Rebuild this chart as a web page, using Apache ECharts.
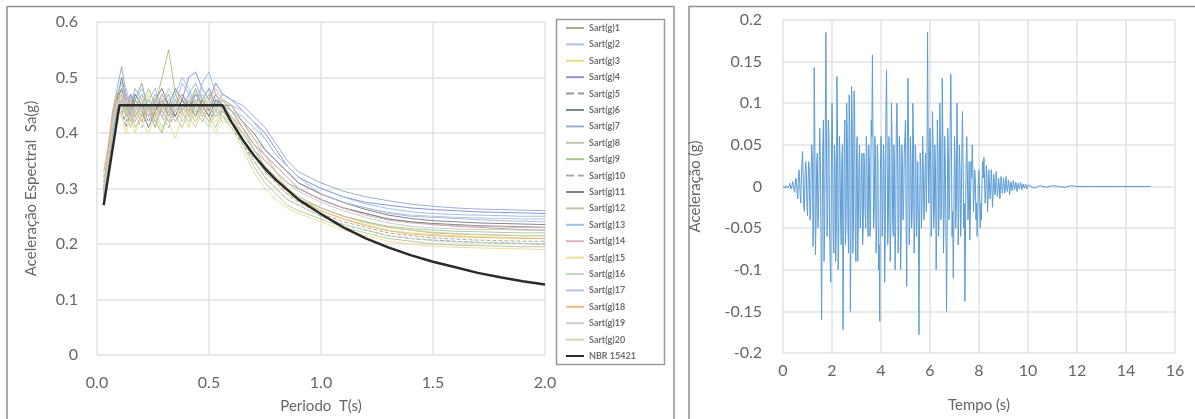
<!DOCTYPE html>
<html>
<head>
<meta charset="utf-8">
<script src="https://cdn.jsdelivr.net/npm/echarts@6/dist/echarts.min.js"></script>
<style>
  html, body { margin: 0; padding: 0; background: #fff; }
  #chart { width: 1195px; height: 419px; }
</style>
</head>
<body>
<div id="chart"></div>
<script>
// Response spectra: periods (s) shared by the 20 record spectra
const periods = [0.03, 0.05, 0.07, 0.09, 0.11, 0.13, 0.15, 0.17, 0.2, 0.23, 0.26, 0.29, 0.32, 0.35, 0.38, 0.41, 0.44, 0.47, 0.5, 0.53, 0.56, 0.6, 0.65, 0.7, 0.75, 0.8, 0.85, 0.9, 1.0, 1.1, 1.2, 1.3, 1.4, 1.5, 1.6, 1.7, 1.8, 1.9, 2.0];

const sart1  = [0.28,0.35,0.42,0.46,0.47,0.44,0.42,0.46,0.49,0.44,0.41,0.45,0.47,0.43,0.46,0.44,0.48,0.45,0.43,0.46,0.44,0.43,0.40,0.37,0.35,0.33,0.31,0.30,0.28,0.265,0.255,0.245,0.24,0.235,0.232,0.23,0.228,0.226,0.225];
const sart2  = [0.30,0.36,0.43,0.47,0.45,0.43,0.47,0.44,0.42,0.46,0.48,0.44,0.42,0.45,0.49,0.47,0.44,0.46,0.48,0.45,0.46,0.44,0.42,0.39,0.37,0.35,0.33,0.31,0.29,0.275,0.265,0.255,0.25,0.248,0.246,0.244,0.242,0.241,0.24];
const sart3  = [0.29,0.34,0.41,0.45,0.48,0.46,0.43,0.40,0.44,0.47,0.43,0.40,0.45,0.48,0.44,0.41,0.45,0.47,0.44,0.42,0.45,0.43,0.39,0.36,0.33,0.31,0.29,0.28,0.26,0.245,0.235,0.225,0.22,0.217,0.215,0.213,0.212,0.211,0.21];
const sart4  = [0.27,0.33,0.40,0.44,0.46,0.44,0.47,0.45,0.43,0.46,0.44,0.47,0.45,0.48,0.46,0.50,0.51,0.48,0.46,0.49,0.47,0.46,0.44,0.42,0.40,0.37,0.34,0.32,0.30,0.285,0.275,0.27,0.265,0.262,0.26,0.258,0.257,0.256,0.255];
const sart5  = [0.31,0.37,0.43,0.46,0.44,0.41,0.44,0.47,0.45,0.42,0.45,0.43,0.41,0.44,0.46,0.43,0.45,0.44,0.42,0.44,0.43,0.41,0.38,0.35,0.32,0.30,0.28,0.27,0.25,0.235,0.225,0.215,0.21,0.207,0.205,0.203,0.202,0.201,0.2];
const sart6  = [0.28,0.35,0.42,0.46,0.48,0.45,0.43,0.46,0.44,0.41,0.44,0.46,0.43,0.45,0.47,0.45,0.43,0.46,0.44,0.47,0.45,0.44,0.41,0.38,0.36,0.34,0.32,0.30,0.28,0.265,0.255,0.245,0.24,0.237,0.235,0.233,0.232,0.231,0.23];
const sart7  = [0.29,0.36,0.44,0.48,0.52,0.47,0.45,0.48,0.46,0.44,0.47,0.45,0.43,0.46,0.44,0.47,0.49,0.46,0.48,0.45,0.47,0.46,0.45,0.43,0.41,0.38,0.35,0.33,0.31,0.295,0.285,0.278,0.272,0.268,0.265,0.263,0.262,0.261,0.26];
const sart8  = [0.30,0.36,0.42,0.45,0.43,0.46,0.44,0.41,0.43,0.45,0.42,0.44,0.46,0.43,0.41,0.44,0.42,0.45,0.43,0.41,0.44,0.42,0.38,0.34,0.31,0.29,0.27,0.26,0.245,0.23,0.22,0.21,0.205,0.2,0.198,0.197,0.196,0.195,0.195];
const sart9  = [0.28,0.34,0.41,0.45,0.47,0.44,0.46,0.43,0.45,0.48,0.45,0.50,0.55,0.47,0.44,0.46,0.43,0.45,0.47,0.44,0.46,0.44,0.41,0.37,0.34,0.32,0.30,0.28,0.265,0.25,0.24,0.23,0.225,0.22,0.218,0.217,0.216,0.215,0.215];
const sart10 = [0.32,0.37,0.43,0.46,0.44,0.42,0.45,0.43,0.41,0.44,0.46,0.43,0.45,0.42,0.44,0.46,0.44,0.42,0.45,0.43,0.44,0.42,0.39,0.36,0.33,0.31,0.29,0.275,0.255,0.24,0.23,0.22,0.215,0.211,0.209,0.207,0.206,0.205,0.205];
const sart11 = [0.29,0.35,0.42,0.46,0.50,0.46,0.44,0.47,0.45,0.43,0.46,0.48,0.45,0.43,0.46,0.44,0.47,0.45,0.43,0.46,0.45,0.45,0.42,0.40,0.37,0.35,0.33,0.31,0.29,0.275,0.262,0.252,0.246,0.242,0.24,0.238,0.237,0.236,0.235];
const sart12 = [0.27,0.34,0.41,0.45,0.46,0.43,0.41,0.44,0.47,0.45,0.42,0.40,0.44,0.46,0.43,0.45,0.48,0.44,0.42,0.45,0.43,0.42,0.40,0.37,0.34,0.32,0.30,0.285,0.265,0.25,0.24,0.232,0.228,0.225,0.223,0.222,0.221,0.22,0.22];
const sart13 = [0.30,0.36,0.43,0.47,0.49,0.46,0.44,0.46,0.48,0.45,0.43,0.46,0.44,0.47,0.50,0.48,0.45,0.49,0.51,0.47,0.45,0.44,0.43,0.41,0.39,0.36,0.34,0.32,0.30,0.285,0.272,0.264,0.258,0.255,0.253,0.252,0.251,0.25,0.25];
const sart14 = [0.29,0.35,0.42,0.46,0.45,0.47,0.44,0.42,0.45,0.43,0.46,0.44,0.42,0.45,0.47,0.44,0.46,0.43,0.45,0.47,0.45,0.43,0.41,0.38,0.36,0.34,0.32,0.30,0.28,0.265,0.252,0.243,0.238,0.235,0.233,0.232,0.231,0.23,0.23];
const sart15 = [0.31,0.36,0.42,0.45,0.43,0.40,0.43,0.45,0.42,0.40,0.43,0.45,0.42,0.39,0.43,0.45,0.42,0.44,0.42,0.40,0.43,0.41,0.37,0.33,0.30,0.28,0.265,0.255,0.24,0.225,0.215,0.205,0.2,0.196,0.194,0.193,0.192,0.191,0.19];
const sart16 = [0.28,0.34,0.41,0.45,0.47,0.44,0.42,0.45,0.43,0.46,0.44,0.41,0.43,0.45,0.42,0.44,0.46,0.43,0.41,0.44,0.42,0.42,0.39,0.35,0.32,0.30,0.28,0.27,0.25,0.235,0.225,0.215,0.21,0.206,0.204,0.203,0.202,0.201,0.2];
const sart17 = [0.30,0.36,0.43,0.47,0.46,0.48,0.45,0.43,0.46,0.44,0.47,0.45,0.48,0.46,0.44,0.47,0.45,0.48,0.46,0.44,0.46,0.45,0.44,0.42,0.39,0.36,0.34,0.32,0.29,0.275,0.265,0.257,0.252,0.25,0.248,0.247,0.246,0.245,0.245];
const sart18 = [0.33,0.38,0.44,0.47,0.45,0.43,0.46,0.44,0.42,0.45,0.43,0.46,0.44,0.42,0.45,0.43,0.46,0.44,0.46,0.48,0.46,0.45,0.42,0.39,0.36,0.33,0.30,0.28,0.26,0.245,0.233,0.224,0.218,0.215,0.213,0.212,0.211,0.21,0.21];
const sart19 = [0.28,0.35,0.42,0.46,0.44,0.46,0.43,0.45,0.47,0.44,0.42,0.45,0.43,0.46,0.44,0.42,0.45,0.47,0.45,0.43,0.45,0.44,0.41,0.38,0.35,0.33,0.31,0.295,0.275,0.26,0.248,0.238,0.232,0.229,0.227,0.226,0.226,0.225,0.225];
const sart20 = [0.29,0.35,0.42,0.45,0.47,0.45,0.42,0.44,0.46,0.43,0.45,0.47,0.44,0.42,0.45,0.43,0.41,0.44,0.46,0.44,0.43,0.43,0.40,0.37,0.34,0.32,0.30,0.285,0.265,0.25,0.238,0.23,0.225,0.221,0.219,0.217,0.216,0.215,0.215];

const spectra = [sart1, sart2, sart3, sart4, sart5, sart6, sart7, sart8, sart9, sart10,
                 sart11, sart12, sart13, sart14, sart15, sart16, sart17, sart18, sart19, sart20];
const spectraNames = spectra.map((_, i) => 'Sart(g)' + (i + 1));
const spectraColors = ['#9aa98a', '#a9b4e0', '#e3dc6e', '#7f86d8', '#8a8a8a', '#6f7c7c', '#8fa8c8', '#b4c4a0',
                       '#9cc47a', '#a0a0a0', '#707a80', '#a6c49a', '#8cc0e0', '#e0a8bc', '#ecd98a', '#b8d8b0',
                       '#b0bcd8', '#f0b070', '#c4c4c4', '#d8c8a8'];
const dashedSeries = [5, 10];

// NBR 15421 design spectrum
const nbrPeriods = [0.03, 0.1, 0.56, 0.6, 0.65, 0.7, 0.75, 0.8, 0.9, 1.0, 1.1, 1.2, 1.3, 1.4, 1.5, 1.6, 1.7, 1.8, 1.9, 2.0];
const nbrSa      = [0.27, 0.45, 0.45, 0.42, 0.388, 0.36, 0.336, 0.315, 0.28, 0.254, 0.23, 0.21, 0.194, 0.18, 0.168, 0.158, 0.148, 0.14, 0.133, 0.127];

// Accelerogram, strong-motion part sampled every 0.025 s from t = 0 to 10 s
const dtStrong = 0.025;
const accelStrong = [
  0, 0.001, 0.002, -0.001, -0.002, 0.001, 0.003, 0.002, -0.002, -0.004, 0.001, 0.004, 0.003, -0.003, -0.005, 0.002, 0.006, 0.004, -0.004, -0.007,
  0.003, 0.01, 0.006, -0.008, -0.015, 0.005, 0.02, 0.012, -0.01, -0.02, 0.01, 0.03, 0.042, 0.01, -0.025, -0.03, 0.015, 0.03, 0.02, -0.02,
  -0.035, 0.005, 0.03, 0.02, -0.04, -0.03, 0.02, 0.05, 0.03, -0.072, -0.05, 0.143, 0.06, -0.082, -0.04, 0.03, 0.04, -0.05, -0.03, 0.02,
  0.07, 0.03, -0.06, -0.16, -0.04, 0.05, 0.08, -0.09, -0.05, 0.06, 0.185, 0.05, -0.06, -0.03, 0.08, 0.06, -0.05, -0.09, -0.115, 0.02,
  0.1, 0.05, -0.06, -0.08, 0.05, 0.03, -0.09, -0.05, 0.132, 0.07, -0.1, -0.06, 0.06, 0.04, -0.04, -0.07, 0.03, 0.05, -0.172, -0.06,
  0.05, 0.08, -0.07, -0.04, 0.1, 0.06, -0.05, -0.08, 0.11, 0.07, -0.15, -0.06, 0.12, 0.08, -0.08, -0.05, 0.115, 0.09, -0.06, -0.09,
  0.04, 0.06, -0.09, -0.04, 0.03, 0.05, -0.05, -0.03, 0.02, 0.04, -0.07, -0.05, 0.04, 0.03, -0.03, -0.05, 0.06, 0.04, -0.04, -0.06,
  0.05, 0.03, -0.06, -0.04, 0.08, 0.06, 0.158, 0.05, -0.05, -0.03, 0.06, 0.04, -0.08, -0.05, 0.05, 0.03, -0.1, -0.07, -0.162, 0.02,
  0.06, 0.04, -0.06, -0.03, 0.05, 0.03, -0.115, -0.06, 0.08, 0.14, 0.05, -0.07, -0.04, 0.06, 0.03, -0.09, -0.05, 0.1, 0.06, -0.04,
  -0.06, 0.05, 0.03, -0.1, -0.05, 0.07, 0.1, 0.05, -0.08, -0.04, 0.06, 0.04, -0.1, -0.06, 0.05, 0.03, -0.04, -0.02, 0.04, 0.06,
  0.08, -0.04, -0.12, 0.05, 0.13, 0.06, -0.07, -0.04, 0.06, 0.03, -0.05, -0.03, 0.1, 0.06, -0.08, -0.05, 0.05, 0.03, -0.06, -0.03,
  0.03, -0.05, -0.178, -0.04, 0.04, 0.02, -0.05, -0.02, 0.06, 0.03, -0.04, -0.02, 0.02, 0.04, -0.03, 0.02, 0.185, 0.06, -0.02, 0.03,
  0.07, 0.03, -0.06, -0.03, 0.09, 0.05, -0.05, -0.03, 0.05, 0.02, -0.1, -0.05, 0.08, 0.04, -0.06, -0.03, 0.1, 0.05, -0.04, -0.02,
  0.13, 0.06, -0.08, -0.04, 0.06, 0.03, -0.05, -0.15, -0.06, 0.07, 0.04, -0.04, -0.02, 0.08, 0.135, 0.05, -0.06, -0.03, -0.11, -0.04,
  0.06, 0.03, -0.05, -0.02, 0.1, 0.05, -0.07, -0.03, 0.05, 0.02, -0.06, -0.03, 0.04, 0.09, 0.03, -0.05, -0.02, -0.138, -0.05, 0.03,
  0.06, 0.02, -0.04, -0.02, 0.03, -0.064, -0.03, 0.03, 0.01, 0.05, 0.02, -0.03, -0.01, 0.02, 0.01, -0.04, -0.02, -0.06, -0.03, 0.01,
  0.02, -0.01, -0.05, -0.02, -0.04, 0.01, 0.03, 0.01, 0.035, 0.01, -0.02, -0.01, 0.025, 0.01, -0.03, -0.01, 0.02, 0.005, -0.015, -0.005,
  0.02, 0.005, -0.025, -0.01, 0.015, 0.005, -0.01, -0.004, 0.018, 0.006, -0.012, -0.004, 0.01, 0.003, -0.015, -0.005, 0.012, 0.004, -0.008, -0.003,
  0.01, 0.003, -0.008, -0.003, 0.012, 0.004, -0.006, -0.002, 0.008, 0.003, -0.01, -0.003, 0.006, 0.002, -0.005, -0.002, 0.007, 0.002, -0.004, -0.001,
  0.005, 0.002, -0.006, -0.002, 0.004, 0.001, -0.003, -0.001, 0.005, 0.002, -0.004, -0.001, 0.003, 0.001, -0.002, -0.001, 0.003, 0.001, -0.003, -0.001,
  0.002
];
// Quiet tail, sampled every 0.25 s from t = 10.25 to 15 s
const tailStart = 10.25;
const dtTail = 0.25;
const accelTail = [-0.002, 0.001, -0.001, 0.001, 0, -0.001, 0.001, 0, 0, 0, 0, 0, 0, 0, 0, 0, 0, 0, 0, 0];

// Axis ticks
const periodTicks = { min: 0, max: 2.0, interval: 0.5 };
const saTicks     = { min: 0, max: 0.6, interval: 0.1 };
const timeTicks   = { min: 0, max: 16, interval: 2 };
const accelTicks  = { min: -0.2, max: 0.2, interval: 0.05 };

const FONT = 'Lato, "Open Sans", sans-serif';
const TXT = '#666666';
const GRID_LINE = '#e2e2e2';
const FRAME = '#8f8f8f';

const chart = echarts.init(document.getElementById('chart'), null, { renderer: 'canvas' });

function trim(v, d) { return String(parseFloat(v.toFixed(d))); }

const spectrumSeries = spectra.map((vals, i) => ({
  name: spectraNames[i],
  type: 'line',
  xAxisIndex: 0,
  yAxisIndex: 0,
  symbol: 'none',
  data: periods.map((p, k) => [p, vals[k]]),
  lineStyle: { width: 1, color: spectraColors[i], type: dashedSeries.includes(i + 1) ? 'dashed' : 'solid', opacity: 0.9 },
  itemStyle: { color: spectraColors[i] },
  emphasis: { disabled: true },
  z: 2
}));

const accelData = accelStrong.map((a, i) => [i * dtStrong, a])
  .concat(accelTail.map((a, i) => [tailStart + i * dtTail, a]));

const option = {
  animation: false,
  textStyle: { fontFamily: FONT },
  grid: [
    { left: 97, right: 650, top: 22, bottom: 64, containLabel: false },
    { left: 783, right: 20, top: 20, bottom: 66, containLabel: false }
  ],
  legend: {
    orient: 'vertical',
    left: 565,
    top: 23,
    padding: 0,
    itemGap: 6.4,
    itemWidth: 18,
    itemHeight: 10,
    itemStyle: { opacity: 0 },
    data: spectraNames.concat(['NBR 15421']),
    textStyle: { fontSize: 9, color: '#6e6e6e', fontFamily: FONT, fontWeight: 'bold', lineHeight: 10 },
    selectedMode: false
  },
  xAxis: [
    {
      type: 'value', gridIndex: 0,
      min: periodTicks.min, max: periodTicks.max, interval: periodTicks.interval,
      name: 'Periodo  T(s)', nameLocation: 'middle', nameGap: 44,
      nameTextStyle: { fontSize: 15, color: TXT, fontFamily: FONT },
      axisLine: { show: false }, axisTick: { show: false },
      axisLabel: { fontSize: 16, color: TXT, margin: 20, formatter: v => v.toFixed(1) },
      splitLine: { show: true, lineStyle: { color: GRID_LINE, width: 1.5 } }
    },
    {
      type: 'value', gridIndex: 1,
      min: timeTicks.min, max: timeTicks.max, interval: timeTicks.interval,
      name: 'Tempo (s)', nameLocation: 'middle', nameGap: 45,
      nameTextStyle: { fontSize: 15, color: TXT, fontFamily: FONT },
      axisLine: { show: false }, axisTick: { show: false },
      axisLabel: { fontSize: 16, color: TXT, margin: 10, formatter: v => trim(v, 0) },
      splitLine: { show: true, lineStyle: { color: GRID_LINE, width: 1.5 } }
    }
  ],
  yAxis: [
    {
      type: 'value', gridIndex: 0,
      min: saTicks.min, max: saTicks.max, interval: saTicks.interval,
      name: 'Aceleração Espectral  Sa(g)', nameLocation: 'middle', nameGap: 58,
      nameTextStyle: { fontSize: 15, color: TXT, fontFamily: FONT },
      axisLine: { show: false }, axisTick: { show: false },
      axisLabel: { fontSize: 16, color: TXT, margin: 19, formatter: v => trim(v, 2) },
      splitLine: { show: true, lineStyle: { color: GRID_LINE, width: 1.5 } }
    },
    {
      type: 'value', gridIndex: 1,
      min: accelTicks.min, max: accelTicks.max, interval: accelTicks.interval,
      name: 'Aceleração (g)', nameLocation: 'middle', nameGap: 80,
      nameTextStyle: { fontSize: 15, color: TXT, fontFamily: FONT },
      axisLine: { show: false }, axisTick: { show: false },
      axisLabel: { fontSize: 16, color: TXT, margin: 21, formatter: v => trim(v, 2) },
      splitLine: { show: true, lineStyle: { color: GRID_LINE, width: 1.5 } }
    }
  ],
  series: spectrumSeries.concat([
    {
      name: 'NBR 15421',
      type: 'line',
      xAxisIndex: 0, yAxisIndex: 0,
      symbol: 'none',
      data: nbrPeriods.map((p, k) => [p, nbrSa[k]]),
      lineStyle: { width: 2.5, color: '#2b2b2b' },
      itemStyle: { color: '#2b2b2b' },
      emphasis: { disabled: true },
      z: 5
    },
    {
      name: 'Aceleração',
      type: 'line',
      xAxisIndex: 1, yAxisIndex: 1,
      symbol: 'none',
      data: accelData,
      lineStyle: { width: 1, color: '#5b9bd5' },
      emphasis: { disabled: true },
      z: 3
    }
  ]),
  graphic: [
    // panel frames
    { type: 'line', silent: true, shape: { x1: 7, y1: 6.5, x2: 674, y2: 6.5 }, style: { stroke: FRAME, lineWidth: 1.5 } },
    { type: 'line', silent: true, shape: { x1: 7, y1: 6, x2: 7, y2: 419 }, style: { stroke: FRAME, lineWidth: 1.5 } },
    { type: 'line', silent: true, shape: { x1: 674, y1: 6, x2: 674, y2: 419 }, style: { stroke: FRAME, lineWidth: 1.5 } },
    { type: 'line', silent: true, shape: { x1: 689, y1: 6.5, x2: 1195, y2: 6.5 }, style: { stroke: FRAME, lineWidth: 1.5 } },
    { type: 'line', silent: true, shape: { x1: 689, y1: 6, x2: 689, y2: 419 }, style: { stroke: FRAME, lineWidth: 1.5 } },
    // legend box
    { type: 'rect', silent: true, z: -1, shape: { x: 556.5, y: 19.5, width: 108, height: 345 }, style: { fill: '#fff', stroke: '#9a9a9a', lineWidth: 1.5 } }
  ]
};

chart.setOption(option);
</script>
</body>
</html>
